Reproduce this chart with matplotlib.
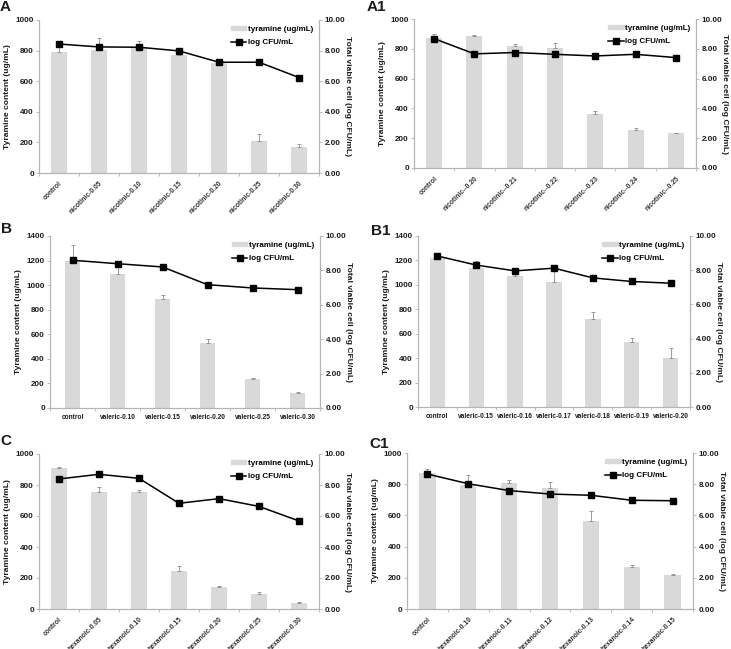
import numpy as np
import matplotlib
matplotlib.use('Agg')
import matplotlib.pyplot as plt
from matplotlib.lines import Line2D
from matplotlib.patches import Patch

plt.rcParams['font.family'] = ['Liberation Sans', 'DejaVu Sans']

# panel A: nicotinic acid
a_cats = ['control', 'nicotinic-0.05', 'nicotinic-0.10', 'nicotinic-0.15',
          'nicotinic-0.20', 'nicotinic-0.25', 'nicotinic-0.30']
a_tyr = [790, 804, 820, 772, 717, 211, 170]
a_err = [50, 76, 40, 10, 20, 41, 17]
a_log = [8.43, 8.24, 8.22, 7.98, 7.24, 7.24, 6.24]

# panel A1
a1_cats = ['control', 'nicotinic--0.20', 'nicotinic--0.21', 'nicotinic--0.22',
           'nicotinic--0.23', 'nicotinic--0.24', 'nicotinic--0.25']
a1_tyr = [875, 884, 819, 804, 364, 257, 234]
a1_err = [25, 9, 14, 37, 20, 11, 0]
a1_log = [8.68, 7.66, 7.75, 7.63, 7.52, 7.63, 7.41]

# panel B: valeric acid
b_cats = ['control', 'valeric-0.10', 'valeric-0.15', 'valeric-0.20',
          'valeric-0.25', 'valeric-0.30']
b_tyr = [1194, 1088, 890, 532, 239, 122]
b_err = [130, 80, 32, 32, 8, 8]
b_log = [8.59, 8.39, 8.20, 7.17, 6.98, 6.88]

# panel B1
b1_cats = ['control', 'valeric-0.15', 'valeric-0.16', 'valeric-0.17',
           'valeric-0.18', 'valeric-0.19', 'valeric-0.20']
b1_tyr = [1217, 1142, 1072, 1025, 718, 529, 403]
b1_err = [10, 56, 20, 110, 63, 38, 76]
b1_log = [8.83, 8.30, 7.96, 8.12, 7.55, 7.34, 7.24]

# panel C: hexanoic acid
c_cats = ['control', 'hexanoic-0.05', 'hexanoic-0.10', 'hexanoic-0.15',
          'hexanoic-0.20', 'hexanoic-0.25', 'hexanoic-0.30']
c_tyr = [910, 757, 757, 245, 144, 97, 41]
c_err = [3, 30, 8, 32, 4, 11, 4]
c_log = [8.39, 8.69, 8.43, 6.82, 7.12, 6.62, 5.68]

# panel C1
c1_cats = ['control', 'hexanoic-0.10', 'hexanoic-0.11', 'hexanoic-0.12',
           'hexanoic-0.13', 'hexanoic-0.14', 'hexanoic-0.15']
c1_tyr = [872, 797, 808, 776, 562, 271, 216]
c1_err = [25, 62, 19, 38, 64, 13, 8]
c1_log = [8.65, 8.03, 7.59, 7.37, 7.29, 6.97, 6.94]

W, H = 731, 649
BAR = '#d9d9d9'
SPINE = '#b4b4b4'
TXT = '#1a1a1a'
TICKFS = 5.8


def px_rect(left, right, top, bottom):
    return [left / W, 1 - bottom / H, (right - left) / W, (bottom - top) / H]


def style_spines(a):
    a.spines['top'].set_visible(False)
    for s in ['left', 'bottom', 'right']:
        a.spines[s].set_color(SPINE)
        a.spines[s].set_linewidth(0.8)


def panel(fig, rect, label, lpos, cats, tyr, err, logc, ymax, rotate, bw=0.4):
    ax = fig.add_axes(rect)
    n = len(cats)
    x = np.arange(n)
    ax.bar(x, tyr, width=bw, color=BAR, zorder=1)
    ax.errorbar(x, tyr, yerr=[np.zeros(n), err], fmt='none', ecolor='#8c8c8c',
                elinewidth=0.6, capsize=1.5, capthick=0.6, zorder=2)
    ax.set_xlim(-0.5, n - 0.5)
    ax.set_ylim(0, ymax)
    ax.set_yticks(np.arange(0, ymax + 1, 200))
    # tick marks between categories, labels at centres
    ax.set_xticks(np.arange(n + 1) - 0.5)
    ax.set_xticklabels([])
    ax.set_xticks(x, minor=True)
    if rotate:
        ax.set_xticklabels(cats, minor=True, rotation=45, ha='right', va='top',
                           rotation_mode='anchor', fontsize=4.9, fontweight='bold',
                           color='#333333')
        ax.tick_params(axis='x', which='minor', length=0, pad=5)
    else:
        ax.set_xticklabels(cats, minor=True, fontsize=4.7, fontweight='bold', color=TXT)
        ax.tick_params(axis='x', which='minor', length=0, pad=4)
    ax.tick_params(axis='x', which='major', length=2.5, width=0.6, color=SPINE)
    ax.tick_params(axis='y', length=2.5, width=0.6, color=SPINE, pad=1.2,
                   labelsize=TICKFS, labelcolor=TXT)
    for t in ax.get_yticklabels():
        t.set_fontweight('bold')
    style_spines(ax)
    ax.set_ylabel('Tyramine content (ug/mL)', fontsize=6.1, fontweight='bold',
                  color=TXT, labelpad=3)

    ax2 = ax.twinx()
    ax2.plot(x, logc, color='black', lw=1.1, marker='s', ms=4.5, zorder=3)
    ax2.set_ylim(0, 10)
    ticks = np.arange(0, 11, 2)
    ax2.set_yticks(ticks)
    ax2.set_yticklabels(['%.2f' % v for v in ticks])
    ax2.tick_params(axis='y', length=2.5, width=0.6, color=SPINE, pad=1.8,
                    labelsize=TICKFS, labelcolor=TXT)
    for t in ax2.get_yticklabels():
        t.set_fontweight('bold')
    style_spines(ax2)
    ax2.set_ylabel('Total viable cell (log CFU/mL)', fontsize=6.1, fontweight='bold',
                   color=TXT, rotation=270, labelpad=4)

    handles = [Patch(color=BAR), Line2D([], [], color='black', lw=1.1, marker='s', ms=4)]
    ax2.legend(handles, ['tyramine (ug/mL)', 'log CFU/mL'], loc='upper right',
               frameon=False, prop={'size': 5.8, 'weight': 'bold'},
               handlelength=1.9, handleheight=0.5, handletextpad=0.2,
               labelspacing=0.8, borderaxespad=0.3)

    fig.text(lpos[0] / W, 1 - lpos[1] / H, label, fontsize=11,
             fontweight='bold', ha='left', va='top', color=TXT)
    return ax, ax2


fig = plt.figure(figsize=(W / 100, H / 100), dpi=100)

panel(fig, px_rect(39, 319, 20, 173), 'A', (0, 0), a_cats, a_tyr, a_err, a_log, 1000, True)
panel(fig, px_rect(414, 696, 19, 168), 'A1', (367, 0), a1_cats, a1_tyr, a1_err, a1_log, 1000, True)
panel(fig, px_rect(50, 320, 236, 408), 'B', (1, 222), b_cats, b_tyr, b_err, b_log, 1400, False, bw=0.33)
panel(fig, px_rect(418, 690, 236, 407), 'B1', (371, 224), b1_cats, b1_tyr, b1_err, b1_log, 1400, False)
panel(fig, px_rect(39, 319, 454, 609), 'C', (0, 434), c_cats, c_tyr, c_err, c_log, 1000, True)
panel(fig, px_rect(407, 693, 453, 609), 'C1', (369, 437), c1_cats, c1_tyr, c1_err, c1_log, 1000, True)

fig.savefig('out.png', dpi=100)
